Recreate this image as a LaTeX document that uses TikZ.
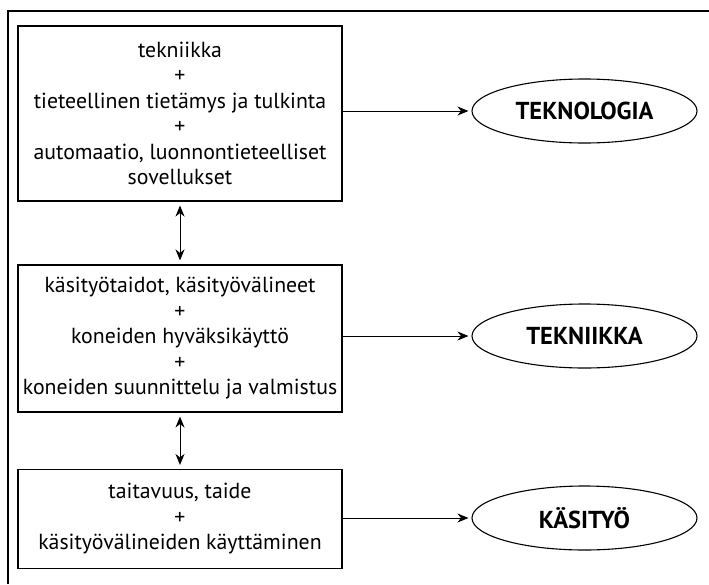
\documentclass[tikz,border=0pt]{standalone}
\usepackage{fontspec}
\setmainfont{PT Sans}
\usetikzlibrary{arrows.meta,shapes.geometric}
\tikzset{
  box/.style={draw, line width=1.1pt, minimum width=324pt, align=center, inner sep=0pt,
    font=\fontsize{21.8}{25.5}\selectfont},
  goal/.style={draw, ellipse, line width=1.1pt, minimum width=225pt, minimum height=64pt,
    inner sep=0pt, font=\fontsize{24.5}{28}\selectfont\bfseries},
  flow/.style={line width=1pt, -{Stealth[length=11pt,width=9pt,inset=3.5pt]}},
  link/.style={line width=1pt, {Stealth[length=11pt,width=9pt,inset=3.5pt]}-{Stealth[length=11pt,width=9pt,inset=3.5pt]}}
}
\begin{document}
\begin{tikzpicture}[x=1pt,y=-1pt]
\useasboundingbox (0,0) rectangle (709,584);
% outer frame (top and left edges)
\draw[line width=1.1pt] (709,11) -- (8,11) -- (8,584);

% boxes
\node[box, minimum height=175pt] (b1) at (180,113.5)
  {tekniikka\\+\\tieteellinen tietämys ja tulkinta\\+\\automaatio, luonnontieteelliset\\sovellukset};
\node[box, minimum height=147pt] (b2) at (180,338.5)
  {käsityötaidot, käsityövälineet\\+\\koneiden hyväksikäyttö\\+\\koneiden suunnittelu ja valmistus};
\node[box, minimum height=99pt] (b3) at (180,519)
  {taitavuus, taide\\+\\käsityövälineiden käyttäminen};

% outcomes
\node[goal] (g1) at (584.5,111) {TEKNOLOGIA};
\node[goal] (g2) at (584.5,336) {TEKNIIKKA};
\node[goal] (g3) at (584.5,518) {KÄSITYÖ};

% connectors
\draw[flow] (b1.east |- g1) -- ([xshift=-3pt]g1.west);
\draw[flow] (b2.east |- g2) -- ([xshift=-3pt]g2.west);
\draw[flow] (b3.east |- g3) -- ([xshift=-3pt]g3.west);
\draw[link] ([yshift=-4pt]b1.south) -- ([yshift=4pt]b2.north);
\draw[link] ([yshift=-4pt]b2.south) -- ([yshift=4pt]b3.north);
\end{tikzpicture}
\end{document}
